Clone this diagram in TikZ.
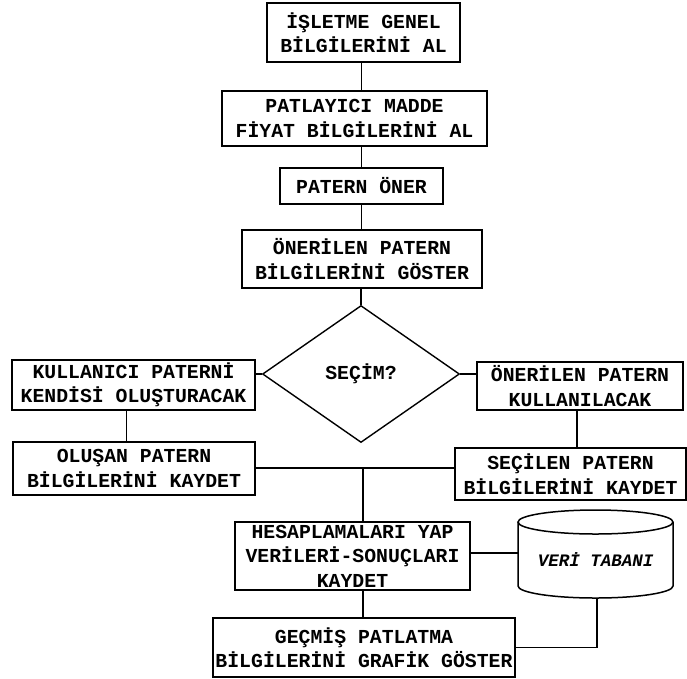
\documentclass[tikz,border=0pt]{standalone}
\usepackage{fontspec}
\setmonofont{Liberation Mono}
\usetikzlibrary{shapes.geometric}
\begin{document}
\begin{tikzpicture}[x=1pt,y=-1pt,
  every node/.style={font=\ttfamily\bfseries\fontsize{19.8}{24.5}\selectfont},
  box/.style={draw,line width=1.6pt,rectangle,inner sep=0pt,align=center},
  link/.style={line width=1.3pt},
  dec/.style={draw,line width=1.4pt,diamond,aspect=1.44,inner sep=0pt,minimum width=197pt,minimum height=137pt}]
\useasboundingbox (0,0) rectangle (687,678);
\node[box,minimum width=193pt,minimum height=59pt] (b1) at (363.5,32.5) {İŞLETME GENEL\\BİLGİLERİNİ AL};
\node[box,minimum width=265pt,minimum height=55pt] (b2) at (354.5,118.5) {PATLAYICI MADDE\\FİYAT BİLGİLERİNİ AL};
\node[box,minimum width=163pt,minimum height=36pt] (b3) at (361.5,186) {PATERN ÖNER};
\node[box,minimum width=240pt,minimum height=58pt] (b4) at (362,259) {ÖNERİLEN PATERN\\BİLGİLERİNİ GÖSTER};
\node[dec] (d) at (361,374) {SEÇİM?};
\node[box,minimum width=243pt,minimum height=50pt] (l1) at (133.5,385) {KULLANICI PATERNİ\\KENDİSİ OLUŞTURACAK};
\node[box,minimum width=242pt,minimum height=53pt] (l2) at (134,468.5) {OLUŞAN PATERN\\BİLGİLERİNİ KAYDET};
\node[box,minimum width=206pt,minimum height=48pt] (r1) at (580,386) {ÖNERİLEN PATERN\\KULLANILACAK};
\node[box,minimum width=231pt,minimum height=52pt] (r2) at (570.5,474) {SEÇİLEN PATERN\\BİLGİLERİNİ KAYDET};
\node[box,minimum width=235pt,minimum height=68pt] (h) at (352.5,556) {HESAPLAMALARI YAP\\VERİLERİ-SONUÇLARI\\KAYDET};
\node[box,minimum width=302pt,minimum height=59pt] (g) at (364,647.5) {GEÇMİŞ PATLATMA\\BİLGİLERİNİ GRAFİK GÖSTER};
% database cylinder
\node[rectangle,inner sep=0pt,minimum width=155pt,minimum height=88pt,font=\ttfamily\bfseries\itshape\fontsize{17.5}{20}\selectfont] (db) at (595.5,560) {VERİ TABANI};
\draw[line width=1.5pt] (518,522) -- (518,586)
  .. controls (518,592.6) and (552.7,598) .. (595.5,598)
  .. controls (638.3,598) and (673,592.6) .. (673,586) -- (673,522);
\draw[line width=1.5pt] (595.5,522) ellipse [x radius=77.5pt,y radius=12pt];
\coordinate (j) at (363,468);
% connectors
\draw[link] (b1.south -| b3.north) -- (b3.north |- b2.north);
\draw[link] (b2.south -| b3.north) -- (b3.north);
\draw[link] (b3.south) -- (b3.south |- b4.north);
\draw[link] (b4.south -| d.north) -- (d.north);
\draw[link] (d.west) -- (d.west -| l1.east);
\draw[link] (d.east) -- (d.east -| r1.west);
\draw[link] ([xshift=-7pt]l1.south) -- ([xshift=-7pt]l1.south |- l2.north);
\draw[link] ([xshift=-3pt]r1.south) -- ([xshift=-3pt]r1.south |- r2.north);
\draw[link] (l2.east |- j) -- (j -| r2.west);
\draw[link] (j) -- (j |- h.north);
\draw[link] (h.east |- 0,553) -- (518,553);
\draw[link] (j |- h.south) -- (j |- g.north);
\draw[link] (597,598) |- (g.east);
\end{tikzpicture}
\end{document}
